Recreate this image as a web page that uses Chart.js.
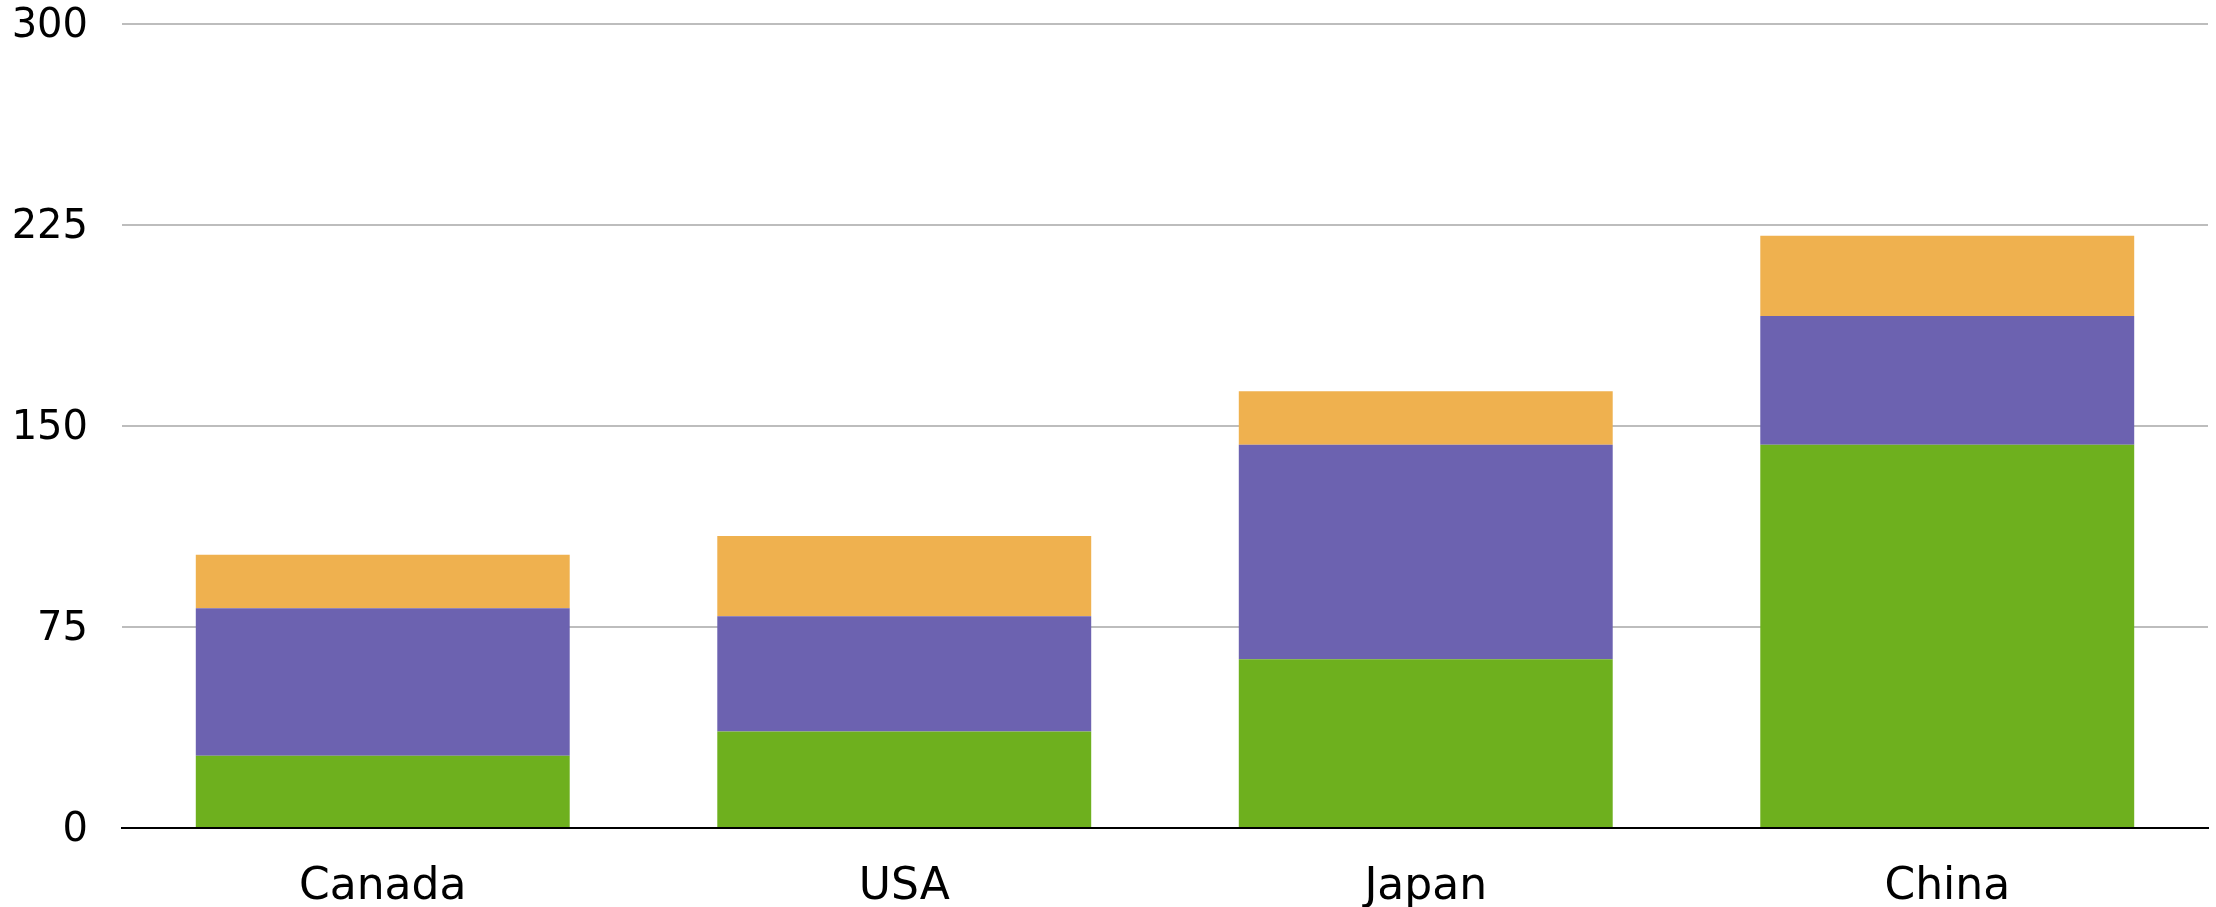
<!DOCTYPE html>
<html>
<head>
<meta charset="utf-8">
<script src="https://cdn.jsdelivr.net/npm/chart.js@4"></script>
<style>
  html, body { margin: 0; padding: 0; background: #fff; }
  #wrap { width: 2216px; height: 907px; }
</style>
</head>
<body>
<div id="wrap"><canvas id="chart"></canvas></div>
<script>
const countries = ['Canada', 'USA', 'Japan', 'China'];
const greenPart = [27, 36, 63, 143];
const purplePart = [55, 43, 80, 48];
const orangePart = [20, 30, 20, 30];
const yTicks = [0, 75, 150, 225, 300];

const font = 'DejaVu Sans';

new Chart(document.getElementById('chart'), {
  type: 'bar',
  data: {
    labels: countries,
    datasets: [
      { data: greenPart, backgroundColor: '#6EB01E' },
      { data: purplePart, backgroundColor: '#6C62B0' },
      { data: orangePart, backgroundColor: '#EFB14F' }
    ]
  },
  options: {
    responsive: true,
    maintainAspectRatio: false,
    animation: false,
    layout: { padding: { top: 24, right: 8, left: 0, bottom: 0 } },
    datasets: { bar: { categoryPercentage: 1, barPercentage: 0.717 } },
    plugins: { legend: { display: false }, tooltip: { enabled: false } },
    scales: {
      x: {
        stacked: true,
        grid: { display: false },
        border: { display: true, color: '#000', width: 2 },
        ticks: { color: '#000', font: { family: font, size: 44 }, padding: 25 },
        afterFit: s => { s.height = 79; s.paddingLeft = 0; s.paddingRight = 0; }
      },
      y: {
        stacked: true,
        min: 0,
        max: 300,
        afterBuildTicks: s => { s.ticks = yTicks.map(v => ({ value: v })); },
        grid: { color: '#bdbdbd', lineWidth: 2, drawTicks: false },
        border: { display: false },
        ticks: { color: '#000', font: { family: font, size: 40 }, padding: 34, labelOffset: 3 },
        afterFit: s => { s.width = 122; s.paddingTop = 0; s.paddingBottom = 0; }
      }
    }
  }
});
</script>
</body>
</html>
